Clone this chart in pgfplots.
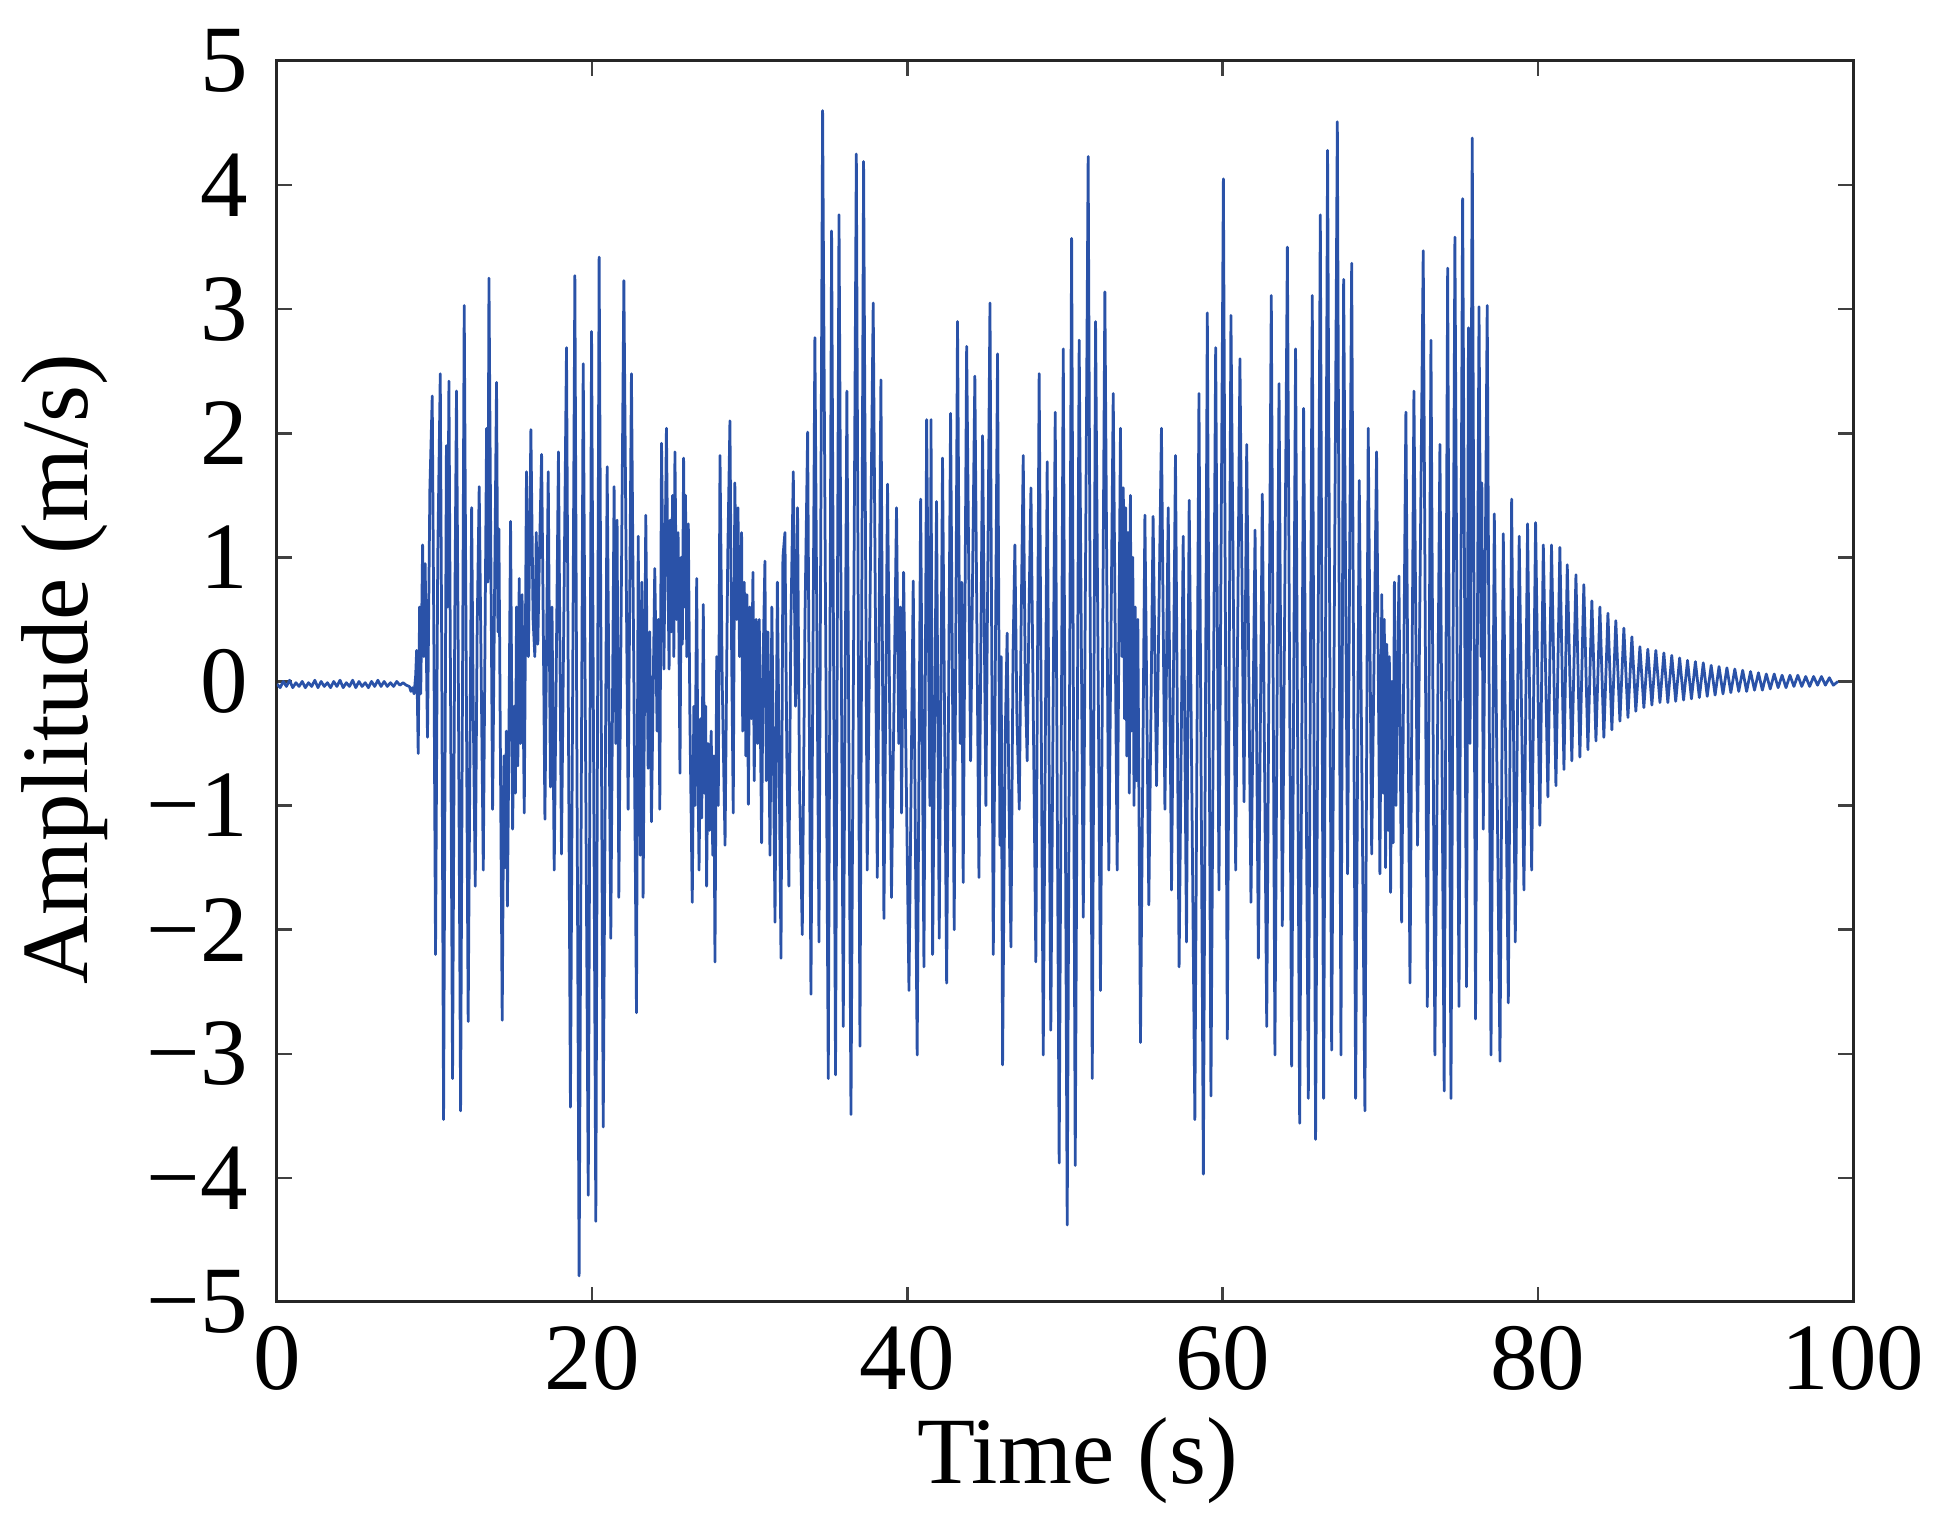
\documentclass[border=0pt]{standalone}
\usepackage{fontspec}
\setmainfont{Liberation Serif}
\usepackage{pgfplots}
\pgfplotsset{compat=1.18}
\usetikzlibrary{calc}
\definecolor{sigblue}{RGB}{42,82,168}

\begin{document}
\begin{tikzpicture}
\begin{axis}[
    scale only axis, width=315.2pt, height=248.2pt,
    xmin=0, xmax=100, ymin=-5, ymax=5,
    xtick={0,20,40,60,80,100},
    xticklabels={0,20,40,60,80,100},
    ytick={-5,-4,-3,-2,-1,0,1,2,3,4,5},
    yticklabels={−5,−4,−3,−2,−1,0,1,2,3,4,5},
    tick align=inside, major tick length=3pt,
    tick style={black!75, line width=0.5pt},
    axis line style={black!85, line width=0.6pt},
    tick label style={font=\fontsize{19}{23}\selectfont, inner sep=0pt},
    xticklabel style={yshift=-4.6pt},
    yticklabel style={xshift=-5.6pt},
    label style={font=\fontsize{19}{23}\selectfont},
    xlabel={Time (s)},
    ylabel={Amplitude (m/s)},
    xlabel style={at={(axis description cs:0.508,-0.128)}, anchor=center},
    ylabel style={at={(axis description cs:-0.1345,0.51)}, anchor=center},
]
\addplot[sigblue, line width=0.55pt, line join=round] coordinates {
(0,-0.02) (0.2,-0.05) (0.4,0.00) (0.6,-0.04) (0.8,0.01) (1.0,-0.05) (1.2,-0.01) (1.4,-0.04)
(1.6,0.00) (1.8,-0.05) (2.0,-0.01) (2.2,-0.04) (2.4,0.01) (2.6,-0.05) (2.8,0.00) (3.0,-0.04)
(3.2,-0.01) (3.4,-0.05) (3.6,0.00) (3.8,-0.04) (4.0,0.01) (4.2,-0.05) (4.4,-0.01) (4.6,-0.04)
(4.8,0.01) (5.0,-0.05) (5.2,0.00) (5.4,-0.04) (5.6,-0.01) (5.8,-0.05) (6.0,0.00) (6.2,-0.04)
(6.4,0.01) (6.6,-0.04) (6.8,0.00) (7.0,-0.04) (7.2,-0.01) (7.4,-0.04) (7.6,0.00) (7.8,-0.03)
(8.0,-0.01) (8.2,-0.03) (8.4,-0.04) (8.5,-0.08) (8.6,-0.05) (8.7,-0.10) (8.8,0.05)
(8.86,0.25) (8.96,-0.58) (9.05,0.60) (9.12,-0.10) (9.24,1.10) (9.32,0.20) (9.40,0.95) (9.55,-0.45)
(9.70,1.55) (9.85,2.30) (9.95,0.40) (10.06,-2.20) (10.20,1.00) (10.36,2.48) (10.45,0.30) (10.57,-3.53)
(10.75,1.90) (10.82,0.60) (10.91,2.42) (11.14,-3.20) (11.28,0.50) (11.39,2.34) (11.50,0.20) (11.65,-3.46)
(11.88,3.03) (12.13,-2.74) (12.35,1.40) (12.45,-0.20) (12.58,-1.65) (12.70,0.40) (12.83,1.57) (13.09,-1.52)
(13.30,2.04) (13.38,0.80) (13.45,3.25) (13.68,-1.03) (13.93,2.41) (14.02,0.40) (14.08,1.23) (14.29,-2.73)
(14.40,-0.60) (14.48,-1.50) (14.55,-0.40) (14.62,-1.81) (14.70,-0.70) (14.82,1.29) (14.95,-1.19) (15.05,-0.20)
(15.13,-0.90) (15.20,0.60) (15.28,-0.68) (15.37,0.83) (15.45,-0.50) (15.55,0.70) (15.69,-1.06) (15.83,1.69)
(15.95,0.20) (16.11,2.03) (16.25,0.50) (16.36,0.20) (16.45,1.20) (16.55,0.30) (16.65,1.00) (16.79,1.83)
(16.90,0.40) (17.00,-1.11) (17.21,1.69) (17.35,-0.85) (17.45,0.60) (17.59,-1.52) (17.86,1.85) (18.05,-1.39)
(18.37,2.69) (18.62,-3.43) (18.90,3.27) (19.17,-4.79) (19.43,2.56) (19.75,-4.14) (19.96,2.82) (20.23,-4.35)
(20.44,3.42) (20.70,-3.59) (20.95,1.73) (21.18,-2.07) (21.39,1.57) (21.50,-0.50) (21.58,1.30) (21.69,-1.74)
(22.01,3.23) (22.28,-1.03) (22.49,2.48) (22.81,-2.67) (22.92,1.17) (23.05,-1.40) (23.15,0.80) (23.23,-1.74)
(23.40,1.34) (23.55,-0.70) (23.65,0.40) (23.76,-1.13) (23.97,0.91) (24.12,-0.40) (24.20,0.50) (24.29,-1.03)
(24.40,1.92) (24.55,0.10) (24.71,2.04)
(24.80,0.90) (24.88,0.10) (24.94,1.30) (25.02,0.40) (25.10,1.50) (25.18,0.20) (25.25,1.85) (25.35,0.50)
(25.45,1.20) (25.57,-0.74) (25.65,1.00) (25.72,0.30) (25.80,1.80) (25.86,0.60) (25.92,1.50) (26.00,0.20)
(26.10,1.27) (26.20,-0.30) (26.35,-1.78) (26.45,-0.20) (26.52,-1.00) (26.63,0.83) (26.70,-0.60) (26.78,-1.52)
(26.88,-0.30) (26.95,-1.10) (27.05,0.62) (27.12,-0.90) (27.20,-0.20) (27.26,-1.65) (27.35,-0.50) (27.45,-1.20)
(27.55,-0.40) (27.65,-1.40) (27.72,-0.60) (27.79,-2.26) (27.90,0.20) (28.00,-1.00) (28.11,1.82) (28.25,0.00)
(28.43,-1.32) (28.60,1.00) (28.74,2.10) (28.85,0.20) (28.95,-1.06) (29.05,1.60) (29.17,0.50) (29.25,1.40)
(29.35,0.20) (29.48,1.20) (29.55,-0.40) (29.65,0.80) (29.75,-0.60) (29.82,0.70) (29.91,-0.99) (30.00,0.60)
(30.10,-0.30) (30.20,0.88) (30.28,-0.80) (30.40,0.50) (30.50,-0.50) (30.60,0.50) (30.75,-1.30) (30.85,0.20)
(30.96,0.97) (31.05,-0.80) (31.15,0.40) (31.28,-1.40) (31.40,0.60) (31.50,-0.60) (31.60,-1.94) (31.75,0.80)
(31.85,-0.50) (31.98,-2.23) (32.10,1.00) (32.23,1.20) (32.35,-0.60) (32.48,-1.65) (32.60,0.40) (32.76,1.69)
(32.90,-0.20) (33.03,1.40) (33.15,-0.80) (33.33,-2.04) (33.50,0.50) (33.67,2.01) (33.88,-2.52) (34.13,2.77)
(34.39,-2.10) (34.62,4.60) (34.98,-3.20) (35.19,3.63) (35.44,-3.17) (35.66,3.76) (35.93,-2.78) (36.16,2.34)
(36.42,-3.49) (36.76,4.25) (36.99,-2.94) (37.22,4.19) (37.45,-1.52) (37.83,3.05) (38.09,-1.58) (38.32,2.43)
(38.51,-1.91) (38.74,1.59) (38.99,-1.74) (39.31,1.40) (39.45,-0.50) (39.55,0.60) (39.63,-1.06) (39.76,0.88)
(40.10,-2.49) (40.37,0.81) (40.62,-3.01) (40.84,1.47) (41.05,-2.30) (41.22,2.11)
(41.43,-1.00) (41.50,2.11) (41.60,-2.20) (41.85,1.45) (42.02,-2.07) (42.23,1.80) (42.49,-2.43) (42.74,2.16)
(42.97,-2.00) (43.18,2.90) (43.35,-0.50) (43.45,0.80) (43.54,-1.62) (43.76,2.70) (44.01,-0.64) (44.15,1.00)
(44.28,2.46) (44.54,-1.58) (44.77,1.98) (44.98,-1.00) (45.24,3.05) (45.45,-2.20) (45.72,2.64) (45.87,-1.32)
(45.95,0.20) (46.04,-3.09) (46.20,-0.50) (46.33,0.39) (46.45,-1.00) (46.57,-2.14) (46.70,0.20) (46.82,1.10)
(46.95,-0.30) (47.10,-1.03) (47.22,0.50) (47.35,1.82) (47.48,0.00) (47.60,-0.64) (47.72,0.60) (47.84,1.56)
(48.00,-0.40) (48.15,-2.26) (48.36,2.48) (48.62,-3.01) (48.87,1.77) (49.10,-2.81) (49.38,2.17) (49.63,-3.88)
(49.89,2.68) (50.14,-4.38) (50.42,3.57) (50.65,-3.90) (50.90,2.75) (51.16,-1.90) (51.47,4.23) (51.73,-3.20)
(51.94,2.90) (52.25,-2.49) (52.53,3.14) (52.78,-1.52) (53.06,2.32) (53.31,-1.52) (53.52,2.04) (53.62,0.20)
(53.70,1.56) (53.78,-0.30) (53.85,1.40) (53.92,-0.60) (54.00,1.20) (54.08,-0.90) (54.15,1.50) (54.22,-0.40)
(54.30,1.00) (54.38,-1.00) (54.45,0.60) (54.54,-0.80) (54.62,0.50) (54.79,-2.91) (55.07,1.34) (55.32,-1.80)
(55.59,1.33) (55.81,-0.84) (56.12,2.04) (56.34,-1.03) (56.55,1.40) (56.76,-1.68) (57.01,1.82) (57.24,-2.30)
(57.50,1.17) (57.71,-2.10) (57.88,1.46) (58.24,-3.53)
(58.50,2.32) (58.78,-3.97) (59.03,2.97) (59.26,-3.34) (59.56,2.69) (59.77,-1.68) (60.05,4.05) (60.30,-2.88)
(60.53,2.95) (60.83,-1.52) (61.10,2.60) (61.36,-0.97) (61.53,1.91) (61.80,-1.78) (62.06,1.22) (62.27,-2.23)
(62.52,1.51) (62.80,-2.78) (63.09,3.11) (63.32,-3.01) (63.58,2.40) (63.79,-1.97) (64.11,3.50) (64.38,-3.10)
(64.63,2.68) (64.89,-3.56) (65.14,2.20) (65.44,-3.36) (65.69,3.11) (65.90,-3.69) (66.20,3.76) (66.41,-3.36)
(66.66,4.28) (66.92,-2.97) (67.28,4.51) (67.51,-3.01) (67.68,3.24) (67.93,-1.55) (68.19,3.37) (68.44,-3.36)
(68.67,1.62) (69.03,-3.46) (69.24,2.04) (69.46,-1.39) (69.77,1.85) (69.98,-1.55) (70.10,0.70) (70.18,-0.90)
(70.26,0.50) (70.34,-1.50) (70.42,0.30) (70.50,-1.20) (70.58,0.20) (70.66,-1.70) (70.74,0.00) (70.82,-1.30)
(70.90,0.80) (71.00,-1.00) (71.19,0.85) (71.36,-1.94) (71.63,2.17) (71.89,-2.43) (72.14,2.34) (72.37,-1.32)
(72.73,3.47) (72.99,-2.62) (73.22,2.75) (73.47,-3.01) (73.79,1.91) (74.06,-3.30) (74.28,3.33) (74.49,-3.36)
(74.74,3.58) (75.00,-2.62) (75.23,3.89)
(75.48,-2.46) (75.60,2.85) (75.70,-0.50) (75.84,4.38) (76.05,-2.72) (76.27,3.02) (76.40,0.20) (76.45,1.60)
(76.54,-1.19) (76.79,3.03) (77.03,-3.01) (77.24,1.35) (77.60,-3.06) (77.81,1.19) (78.13,-2.59) (78.34,1.47)
(78.57,-2.10) (78.82,1.17) (79.12,-1.68) (79.35,1.27) (79.61,-1.52) (79.86,1.28) (80.13,-1.16) (80.35,1.10)
(80.64,-0.93) (80.87,1.10) (81.15,-0.84) (81.40,1.08) (81.66,-0.71) (81.87,0.94) (82.16,-0.64) (82.42,0.86)
(82.67,-0.61) (82.92,0.78) (83.18,-0.55) (83.43,0.65) (83.69,-0.48) (83.94,0.60) (84.19,-0.45) (84.45,0.55)
(84.70,-0.39) (84.95,0.49) (85.21,-0.32) (85.46,0.43) (85.72,-0.29) (85.97,0.36) (86.22,-0.24) (86.48,0.28)
(86.73,-0.21) (86.98,0.26) (87.24,-0.19) (87.49,0.25) (87.75,-0.17) (88.00,0.23) (88.25,-0.17) (88.50,0.21)
(88.75,-0.16) (89.00,0.19) (89.25,-0.15) (89.50,0.17) (89.75,-0.14) (90.00,0.16) (90.25,-0.13) (90.50,0.15)
(90.75,-0.12) (91.00,0.13) (91.25,-0.11) (91.50,0.12) (91.75,-0.10) (92.00,0.11) (92.25,-0.09) (92.50,0.10)
(92.75,-0.08) (93.00,0.09) (93.25,-0.08) (93.50,0.08) (93.75,-0.07) (94.00,0.07) (94.25,-0.07) (94.50,0.06)
(94.75,-0.06) (95.00,0.06) (95.25,-0.05) (95.50,0.05) (95.75,-0.05) (96.00,0.05) (96.25,-0.04) (96.50,0.05)
(96.75,-0.04) (97.00,0.04) (97.25,-0.04) (97.50,0.04) (97.75,-0.03) (98.00,0.04) (98.25,-0.03) (98.50,0.03)
(98.75,-0.03) (99.05,0.00)
};
\end{axis}
\path ($(current axis.south west)+(-55.4pt,-46pt)$) rectangle ($(current axis.north east)+(20.4pt,12.2pt)$);
\end{tikzpicture}
\end{document}
